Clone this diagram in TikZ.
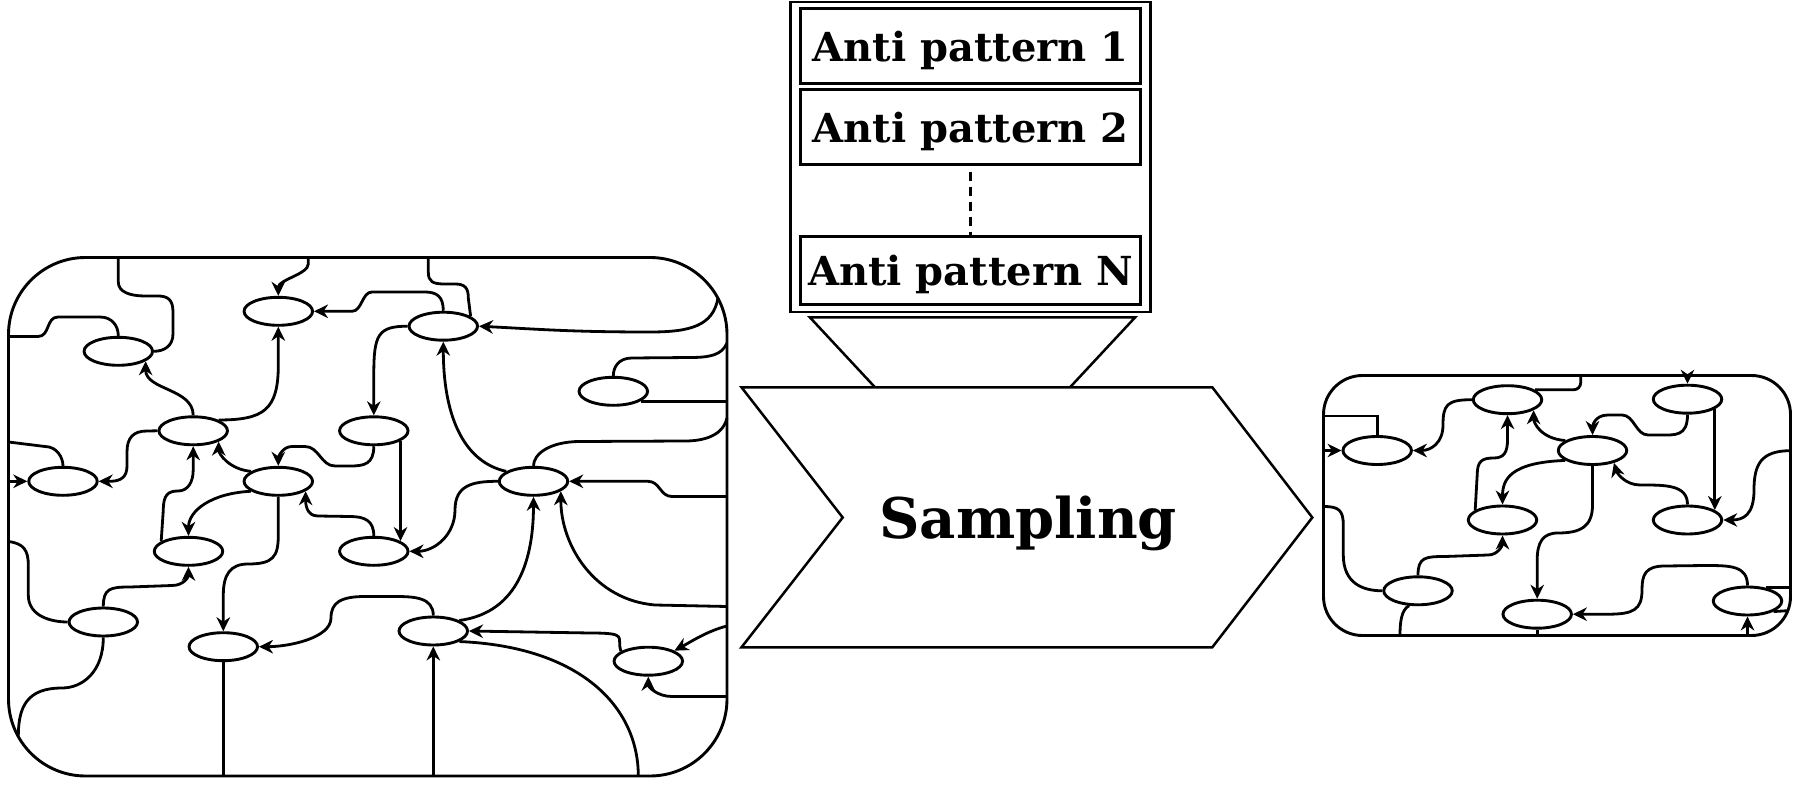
\documentclass[tikz,border=0pt]{standalone}
\usepackage{fontspec}
\setmainfont{DejaVu Serif}
\usetikzlibrary{shapes.geometric,arrows.meta}
\begin{document}
\begin{tikzpicture}[x=1pt,y=-1pt,
  lw/.style={line width=2.9pt},
  el/.style={draw, ellipse, line width=2.9pt, minimum width=68.5pt, minimum height=28pt, inner sep=0pt},
  cn/.style={line width=2.8pt},
  ar/.style={cn, -{Stealth[length=14pt,width=13.5pt,inset=4.5pt]}},
  apbox/.style={draw, line width=2.8pt, minimum width=339.6pt, inner sep=0pt, text height=31pt, text depth=0pt, font=\fontsize{40pt}{40pt}\selectfont\bfseries},
  shp/.style={line width=2.5pt, line join=miter}]
\useasboundingbox (0,0) rectangle (1794,786);
% ---------- left box ----------
\draw[lw] (8.5,257.5) [rounded corners=77pt] rectangle (727,776);
\coordinate (RE) at (727,0);
\coordinate (BE) at (0,776);
\node[el] (E1) at (278.3,311.3) {};
\node[el] (E2) at (118.3,351.3) {};
\node[el] (E3) at (193.2,430.8) {};
\node[el] (E4) at (373.8,430.8) {};
\node[el] (E5) at (63,481.3) {};
\node[el] (E6) at (278.3,481.3) {};
\node[el] (E7) at (443.3,326.2) {};
\node[el] (E8) at (613.3,391.3) {};
\node[el] (E9) at (533.5,481.3) {};
\node[el] (E10) at (188.5,551.3) {};
\node[el] (E11) at (373.8,551.3) {};
\node[el] (E12) at (103.3,622) {};
\node[el] (E13) at (223.3,646.7) {};
\node[el] (E14) at (433.3,631) {};
\node[el] (E15) at (648.3,661.2) {};
\coordinate (t1) at (118.3,257.5);
\coordinate (t2) at (308.3,257.5);
\coordinate (t3) at (428.3,257.5);
\coordinate (l1) at (8.5,336.5);
\coordinate (l2) at (8.5,442);
\coordinate (l3) at (8.5,481.3);
\coordinate (l4) at (8.5,541.5);
\coordinate (c1) at (718,298);
\coordinate (c2) at (18.3,736.6);
\coordinate (r1) at (727,343);
\coordinate (r3) at (727,418);
\coordinate (r4) at (727,496.5);
\coordinate (r5) at (727,606.5);
\coordinate (r6) at (727,626);
\coordinate (r7) at (727,696.5);
\coordinate (b2) at (638.3,776);
% connectors
\draw[cn] (t1) -- (118.3,282) .. controls +(0,10) and +(-15,0) .. (145,296) -- (158,296) .. controls +(10,0) and +(0,-12) .. (173,312) -- (173,334) .. controls +(0,12) and +(10,0) .. (E2.east);
\draw[cn] (l1) -- (38,336.5) .. controls +(12,0) and +(-12,0) .. (58,317) -- (100,317) .. controls +(12,0) and +(0,-10) .. (E2.north);
\draw[ar] (t2) -- (308.3,264) .. controls +(0,10) and +(0,-16) .. (E1.north);
\draw[ar] (E7.north) .. controls +(0,-14) and +(12,0) .. (425,292) -- (372,292) .. controls +(-10,0) and +(10,0) .. (352,311.3) -- (E1.east);
\draw[ar] (E3.north) .. controls +(0,-27) and +(0,29) .. (E2.340);
\draw[ar] (E3.23) .. controls +(45,0) and +(0,45) .. (278.3,365) -- (E1.south);
\draw[ar] (E3.west) -- (147,431) .. controls +(-14,0) and +(0,-14) .. (127,452) -- (127,466) .. controls +(0,10) and +(12,0) .. (110,481.3) -- (E5.east);
\draw[cn] (l2) -- (45,446.5) .. controls +(12,0) and +(0,-8) .. (E5.north);
\draw[ar] (l3) -- (E5.west);
\draw[ar] (E4.south) .. controls +(0,18) and +(14,0) .. (350,466) -- (335,466) .. controls +(-14,0) and +(14,0) .. (305,446.5) -- (292,446.5) .. controls +(-10,0) and +(0,-8) .. (E6.north);
\draw[ar] (E6.160) .. controls +(-22,-2) and +(0,12) .. (E3.337);
\draw[ar] (E6.200) .. controls +(-40,2) and +(0,-25) .. (E10.north);
\draw[ar] (E6.south) -- (278.3,535) .. controls +(0,22) and +(25,0) .. (248,564) .. controls +(-18,0) and +(0,-20) .. (223.3,595) -- (E13.north);
\draw[ar] (E10.160) -- (163.3,510) .. controls +(0,-15) and +(-10,0) .. (178,491) .. controls +(10,0) and +(0,12) .. (193.2,470) -- (E3.south);
\draw[cn] (t3) -- (428.3,272) .. controls +(0,10) and +(-12,0) .. (445,284) -- (455,284) .. controls +(10,0) and +(0,-10) .. (468.3,298) -- (E7.20);
\draw[ar] (c1) .. controls +(-5,28) and +(40,0) .. (650,332) .. controls +(-80,0) and +(60,3) .. (E7.east);
\draw[cn] (r1) .. controls +(-5,12) and +(20,0) .. (690,357.5) -- (632,358) .. controls +(-14,0) and +(0,-8) .. (E8.north);
\draw[cn] (E8.340) -- (E8.340 -| RE);
\draw[cn] (r3) .. controls +(-3,14) and +(25,0) .. (685,441) -- (580,441.5) .. controls +(-30,0) and +(0,-12) .. (E9.north);
\draw[ar] (r4) -- (672,496.5) .. controls +(-12,0) and +(12,0) .. (648,481.3) -- (E9.east);
\draw[ar] (E9.west) .. controls +(-25,0) and +(0,-25) .. (455,510) .. controls +(0,25) and +(25,0) .. (E11.east);
\draw[ar] (E9.160) .. controls +(-45,-10) and +(0,70) .. (E7.south);
\draw[ar] (E7.west) .. controls +(-30,0) and +(0,-40) .. (373.8,375) -- (E4.north);
\draw[ar] (E4.339) -- (E11.21);
\draw[ar] (E11.north) .. controls +(0,-15) and +(15,0) .. (350,516.5) -- (318,516) .. controls +(-12,0) and +(0,12) .. (E6.340);
\draw[ar] (E14.22) .. controls +(60,-8) and +(0,60) .. (E9.south);
\draw[ar] (r5) -- (655,605) .. controls +(-60,-5) and +(0,55) .. (E9.340);
\draw[cn] (l4) .. controls +(15,2) and +(0,-15) .. (28.3,565) -- (28.3,595) .. controls +(0,22) and +(-15,0) .. (E12.west);
\draw[ar] (E12.north) .. controls +(0,-18) and +(-20,0) .. (130,587) -- (172,585.5) .. controls +(12,0) and +(0,10) .. (E10.south);
\draw[cn] (E12.south) .. controls +(0,35) and +(20,0) .. (62,688) .. controls +(-35,0) and +(0,-30) .. (c2);
\draw[cn] (E13.south) -- (E13.south |- BE);
\draw[ar] (E14.north) .. controls +(0,-18) and +(20,0) .. (395,596.5) -- (365,596.5) .. controls +(-25,0) and +(0,-15) .. (331,618) .. controls +(0,20) and +(30,0) .. (E13.east);
\draw[ar] (E14.south |- BE) -- (E14.south);
\draw[cn] (E14.338) .. controls +(120,5) and +(0,-70) .. (b2);
\draw[ar] (E15.160) .. controls +(-5,-14) and +(40,0) .. (590,633) -- (E14.east);
\draw[ar] (r6) .. controls +(-20,5) and +(15,-8) .. (E15.22);
\draw[ar] (r7) -- (672,696.5) .. controls +(-15,0) and +(0,10) .. (E15.south);
% ---------- anti patterns ----------
\draw[lw] (790.7,2) rectangle (1150.3,312);
\node[apbox, minimum height=74.9pt] (A1) at (970.5,46.2) {Anti pattern 1};
\node[apbox, minimum height=74.6pt] (A2) at (970.5,127) {Anti pattern 2};
\node[apbox, minimum height=68.2pt] (AN) at (970.5,270.5) {Anti pattern N};
\draw[line width=2.2pt, dash pattern=on 9pt off 6pt, dash phase=9pt] (A2.south) -- (AN.north);
% ---------- funnel and chevron ----------
\draw[shp] (810,317.5) -- (1135,317.5) -- (1070,387.3) -- (875,387.3) -- cycle;
\draw[shp, fill=white] (741.5,387.3) -- (1212.3,387.3) -- (1312.3,517.5) -- (1212.3,647.3) -- (741.5,647.3) -- (842.7,517.5) -- cycle;
\node[anchor=base, inner sep=0pt, font=\fontsize{56pt}{56pt}\selectfont\bfseries] (S) at (1028.3,538.3) {Sampling};
% ---------- right box ----------
\draw[lw] (1323.5,375.5) [rounded corners=39pt] rectangle (1790.5,635.5);
\coordinate (RE2) at (1790.5,0);
\coordinate (BE2) at (0,635.5);
\node[el] (R1) at (1507.5,399.7) {};
\node[el] (R2) at (1687.5,399.2) {};
\node[el] (R3) at (1377.2,450.5) {};
\node[el] (R4) at (1592.5,450.5) {};
\node[el] (R5) at (1502.5,520) {};
\node[el] (R6) at (1687.5,520) {};
\node[el] (R7) at (1418,590.8) {};
\node[el] (R8) at (1537.2,614.2) {};
\node[el] (R9) at (1747.5,601) {};
\coordinate (t4) at (1580.7,375.5);
\coordinate (t5) at (1687.5,375.5);
\coordinate (l5) at (1323.5,416);
\coordinate (l6) at (1323.5,450.5);
\coordinate (l7) at (1323.5,506.5);
\coordinate (r8) at (1790.5,450.7);
\coordinate (b3) at (1400,635.5);
\coordinate (b4) at (1747.5,635.5);
\coordinate (c3) at (1787.8,610.7);
\draw[cn, rounded corners=7pt] (t4) |- (R1.20);
\draw[ar] (t5) -- (R2.north);
\draw[cn] (l5) -| (R3.north);
\draw[ar] (l6) -- (R3.west);
\draw[ar] (R1.west) .. controls +(-25,0) and +(0,-20) .. (1443,425) .. controls +(0,18) and +(18,0) .. (R3.east);
\draw[ar] (R2.south) .. controls +(0,22) and +(15,0) .. (1660,435) -- (1648,435) .. controls +(-12,0) and +(12,0) .. (1622,415) -- (1608,415) .. controls +(-14,0) and +(0,-8) .. (R4.north);
\draw[ar] (R2.340) -- (R6.20);
\draw[ar] (r8) .. controls +(-30,0) and +(0,-25) .. (1754,490) .. controls +(0,25) and +(20,0) .. (R6.east);
\draw[ar] (R6.north) .. controls +(0,-20) and +(25,0) .. (1640,485) .. controls +(-15,0) and +(3,10) .. (R4.330);
\draw[ar] (R4.160) .. controls +(-25,-2) and +(0,12) .. (R1.338);
\draw[ar] (R4.200) .. controls +(-55,2) and +(0,-25) .. (R5.north);
\draw[ar] (R4.south) -- (1592.5,505) .. controls +(0,22) and +(22,0) .. (1558,533) .. controls +(-15,0) and +(0,-18) .. (1537.2,560) -- (R8.north);
\draw[ar] (R5.160) -- (1477.2,475) .. controls +(0,-14) and +(-12,0) .. (1494,458) .. controls +(10,0) and +(0,12) .. (1507.5,440) -- (R1.south);
\draw[cn] (l7) .. controls +(15,0) and +(0,-15) .. (1343.3,525) -- (1343.3,555) .. controls +(0,28) and +(-20,0) .. (R7.west);
\draw[ar] (R7.north) .. controls +(0,-18) and +(-20,0) .. (1445,556.5) -- (1488,555) .. controls +(10,0) and +(0,10) .. (R5.south);
\draw[cn] (R7.239) .. controls +(-8,4) and +(0,-12) .. (b3);
\draw[cn] (R8.south) -- (R8.south |- BE2);
\draw[ar] (R9.north) .. controls +(0,-20) and +(25,0) .. (1705,565.5) -- (1665,566) .. controls +(-20,0) and +(0,-15) .. (1642,590) .. controls +(0,20) and +(25,0) .. (1608,614.2) -- (R8.east);
\draw[cn] (R9.35) -- (R9.35 -| RE2);
\draw[cn] (R9.338) -- (c3);
\draw[ar] (b4) -- (R9.south);
\end{tikzpicture}
\end{document}
